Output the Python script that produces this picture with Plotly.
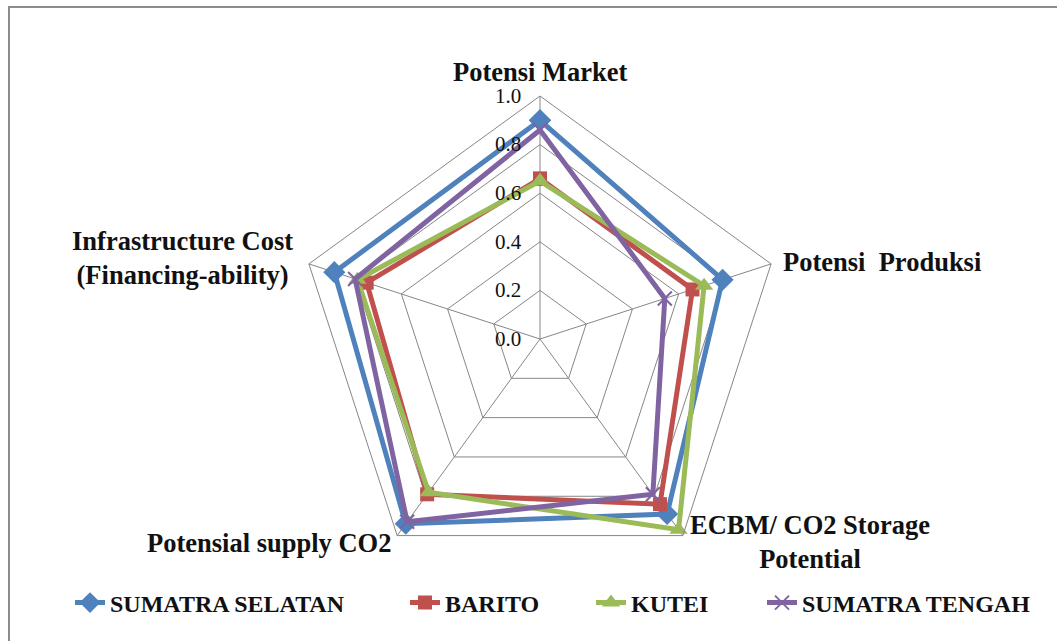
import plotly.graph_objects as go

categories = ["Potensi Market", "Potensi  Produksi", "ECBM/ CO2 Storage Potential",
              "Potensial supply CO2", "Infrastructure Cost (Financing-ability)"]
sumatra_selatan = [0.90, 0.79, 0.89, 0.94, 0.89]
barito = [0.66, 0.66, 0.84, 0.79, 0.75]
kutei = [0.65, 0.71, 0.97, 0.78, 0.79]
sumatra_tengah = [0.86, 0.54, 0.79, 0.93, 0.80]
series_names = ["SUMATRA SELATAN", "BARITO", "KUTEI", "SUMATRA TENGAH"]
radial_ticks = [0.0, 0.2, 0.4, 0.6, 0.8, 1.0]

W, H = 1057, 641
cx, cy, R = 540, 339, 243

colors = ["#4F81BD", "#C0504D", "#9BBB59", "#8064A2"]
symbols = ["diamond", "square", "triangle-up", "x-thin"]
msizes = [17, 14, 16, 14]
serif = "Liberation Serif"

fig = go.Figure()
legend_ids = ["legend", "legend2", "legend3", "legend4"]
for i, (name, vals) in enumerate(zip(series_names,
                                     [sumatra_selatan, barito, kutei, sumatra_tengah])):
    marker = dict(symbol=symbols[i], size=msizes[i], color=colors[i])
    if symbols[i] == "x-thin":
        marker["line"] = dict(color=colors[i], width=2)
    fig.add_trace(go.Scatterpolar(
        r=vals + vals[:1], theta=categories + categories[:1],
        mode="lines+markers", name="<b>" + name + "</b>",
        line=dict(color=colors[i], width=5),
        marker=marker, legend=legend_ids[i],
    ))

def px(x):
    return x / W

def py(y):
    return 1 - y / H

grid = "#868686"
fig.update_layout(
    width=W, height=H,
    margin=dict(l=0, r=0, t=0, b=0),
    paper_bgcolor="white",
    font=dict(family=serif),
    polar=dict(
        domain=dict(x=[px(cx - R), px(cx + R)], y=[py(cy + R), py(cy - R)]),
        gridshape="linear",
        bgcolor="rgba(0,0,0,0)",
        angularaxis=dict(rotation=90, direction="clockwise", showticklabels=False,
                         ticks="", showline=True, linecolor=grid, linewidth=1,
                         gridcolor=grid, gridwidth=1),
        radialaxis=dict(range=[0, 1], tickvals=radial_ticks, tickformat=".1f",
                        angle=90, tickangle=90, side="counterclockwise", showline=False,
                        gridcolor=grid, gridwidth=1, ticks="outside", ticklen=11,
                        tickcolor="rgba(0,0,0,0)",
                        tickfont=dict(family=serif, size=21, color="#111")),
    ),
    showlegend=True,
)

leg_x = [70, 405, 591, 762]
for lid, lx in zip(legend_ids, leg_x):
    fig.update_layout({lid: dict(x=px(lx), y=py(603), xanchor="left", yanchor="middle",
                                 orientation="h", bgcolor="rgba(0,0,0,0)",
                                 font=dict(family=serif, size=24, color="#111"),
                                 itemwidth=30)})

lab_font = dict(family=serif, size=26.5, color="#111")
labels = [
    ("<b>Potensi Market</b>", 540, 72, "center"),
    ("<b>Potensi  Produksi</b>", 781, 262, "left"),
    ("<b>ECBM/ CO2 Storage<br>Potential</b>", 810, 542, "center"),
    ("<b>Potensial supply CO2</b>", 393, 543, "right"),
    ("<b>Infrastructure Cost<br>(Financing-ability)</b>", 182, 258, "center"),
]
for text, x, y, anchor in labels:
    fig.add_annotation(text=text, x=px(x), y=py(y), xref="paper", yref="paper",
                       xanchor=anchor, yanchor="middle", showarrow=False,
                       align="center", font=lab_font)

fig.add_shape(type="rect", xref="paper", yref="paper",
              x0=px(9), x1=px(1062), y0=py(7), y1=py(660),
              line=dict(color="#8c8c8c", width=2), fillcolor="rgba(0,0,0,0)")

fig.write_html("out.html")
